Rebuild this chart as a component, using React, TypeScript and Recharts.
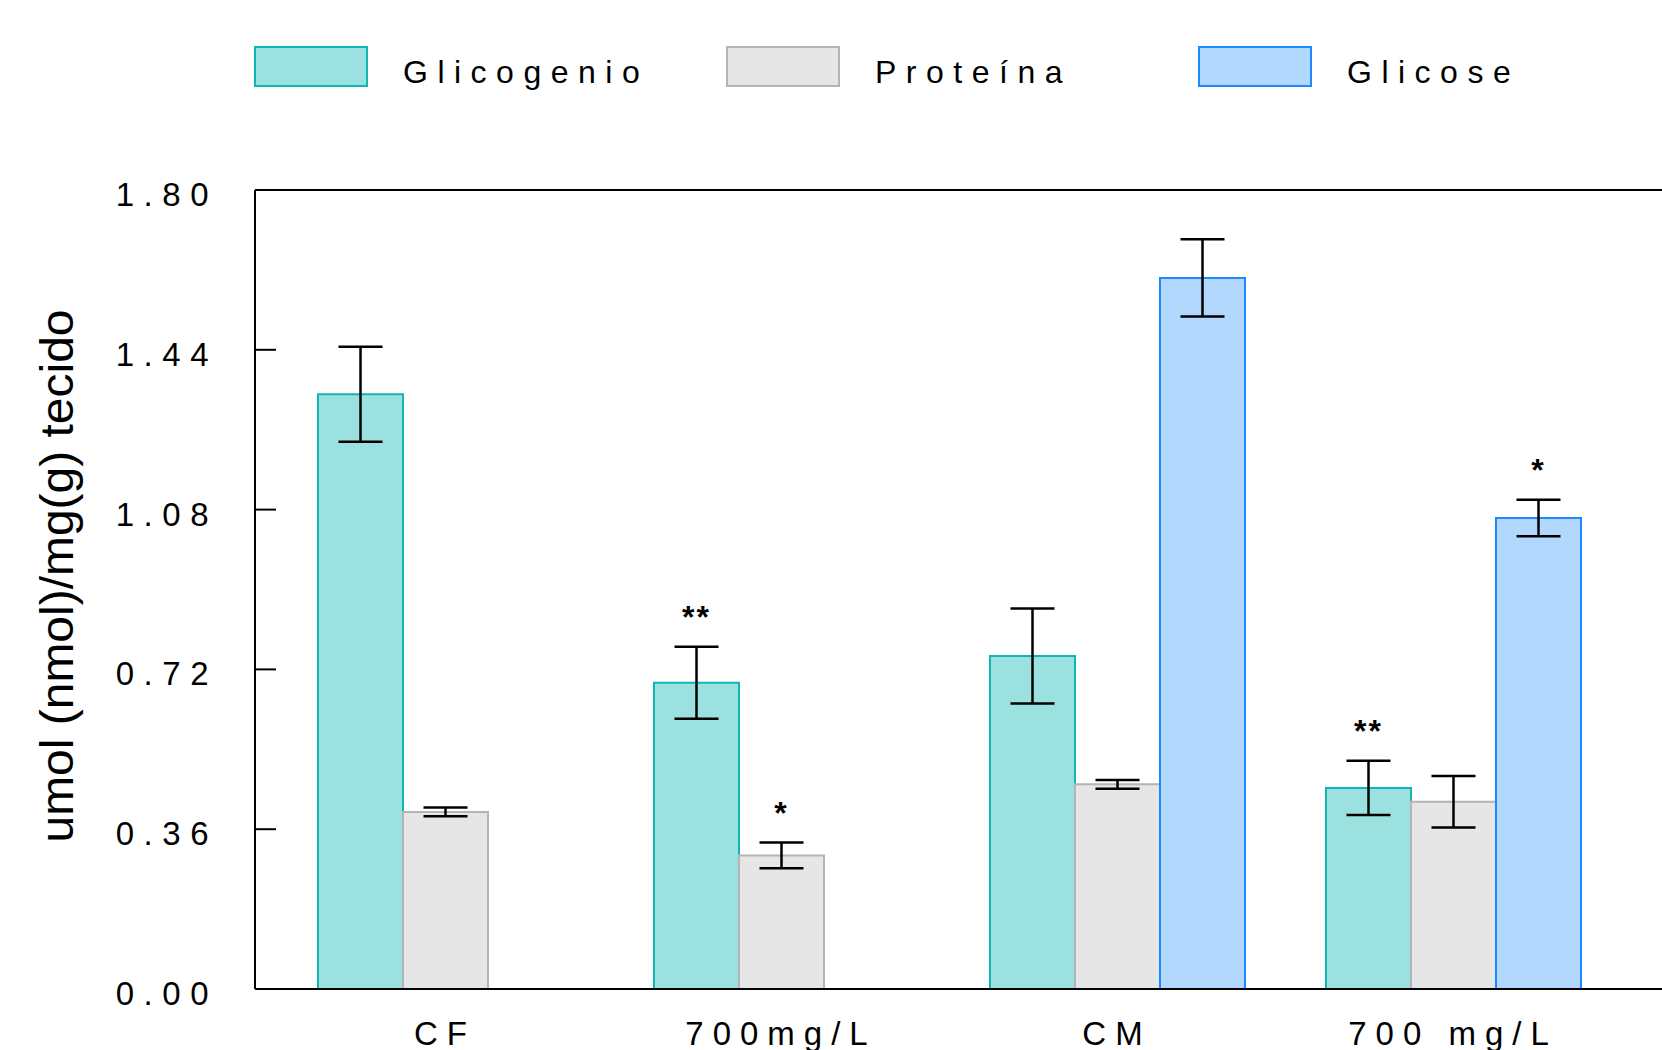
import React from "react"
import { BarChart, Bar, XAxis, YAxis, ErrorBar, LabelList, ReferenceLine, Label } from "recharts"

const categories = ["CF", "700mg/L", "CM", "700 mg/L"]
const seriesNames = ["Glicogenio", "Proteína", "Glicose"]
const glicogenio = [1.34, 0.69, 0.75, 0.453]
const glicogenioErr = [0.107, 0.081, 0.107, 0.061]
const proteina = [0.399, 0.301, 0.461, 0.422]
const proteinaErr = [0.01, 0.029, 0.01, 0.058]
const glicose = [null, null, 1.602, 1.061]
const glicoseErr = [null, null, 0.087, 0.041]
const glicogenioMarks = ["", "**", "", "**"]
const proteinaMarks = ["", "*", "", ""]
const glicoseMarks = ["", "", "", "*"]
const yTicks = [0, 0.36, 0.72, 1.08, 1.44, 1.8]

const fills = ["#9be1df", "#e6e6e6", "#b3d8fd"]
const strokes = ["#12b5b5", "#b4b4b4", "#1e88ff"]
const FONT = '"Liberation Sans", Arial, sans-serif'

const data = categories.map((name, i) => ({
  name,
  glicogenio: glicogenio[i],
  glicogenioErr: glicogenioErr[i],
  proteina: proteina[i],
  proteinaErr: proteinaErr[i],
  glicose: glicose[i],
  glicoseErr: glicoseErr[i],
}))

const YTick = (props: any) => {
  const { x, y, payload } = props
  return (
    <text x={x} y={y + 16} textAnchor="end" fontSize={33} fontFamily={FONT} letterSpacing={9.5} fill="#000">
      {Number(payload.value).toFixed(2)}
    </text>
  )
}

const XTick = (props: any) => {
  const { x, y, payload } = props
  return (
    <text x={x} y={y + 56} textAnchor="middle" fontSize={33} fontFamily={FONT} letterSpacing={9} fill="#000">
      {payload.value}
    </text>
  )
}

// significance stars sit a bit above the top of the error bar
const markRenderer = (marks: string[], values: (number | null)[], errs: (number | null)[]) => (props: any) => {
  const vb = props.viewBox || {}
  const x = props.x ?? vb.x
  const y = props.y ?? vb.y
  const width = props.width ?? vb.width
  const height = props.height ?? vb.height
  let i = categories.indexOf(props.value)
  if (i < 0 && props.payload) i = categories.indexOf(props.payload.name)
  if (i < 0) i = props.index
  const v = values[i]
  if (!marks[i] || !v) return null
  const pxPerUnit = height / v
  const top = y - (errs[i] || 0) * pxPerUnit
  return (
    <text
      key={`mark-${i}`}
      x={x + width / 2}
      y={top - 19}
      textAnchor="middle"
      fontSize={32}
      fontWeight="bold"
      fontFamily={FONT}
      letterSpacing={2}
      fill="#000"
    >
      {marks[i]}
    </text>
  )
}

const YLabel = () => (
  <text
    x={73}
    y={576}
    transform="rotate(-90, 73, 576)"
    textAnchor="middle"
    fontSize={47}
    fontFamily={FONT}
    textLength={533}
    lengthAdjust="spacingAndGlyphs"
    fill="#000"
  >
    umol (nmol)/mg(g) tecido
  </text>
)

export default function App() {
  return (
    <div style={{ position: "absolute", left: 0, top: 0, width: 1662, height: 1050, overflow: "hidden", background: "#fff" }}>
      <BarChart
        width={1662}
        height={1050}
        data={data}
        margin={{ top: 190, right: 0, left: 0, bottom: 0 }}
        barSize={85}
        barGap={0}
      >
        <XAxis
          dataKey="name"
          height={61}
          padding={{ left: 22, right: 41 }}
          axisLine={{ stroke: "#000", strokeWidth: 2 }}
          tickLine={false}
          tickSize={0}
          tickMargin={0}
          interval={0}
          tick={<XTick />}
        />
        <YAxis
          domain={[0, 1.8]}
          ticks={yTicks}
          interval={0}
          width={255}
          axisLine={{ stroke: "#000", strokeWidth: 2 }}
          tickLine={{ stroke: "#000", strokeWidth: 2 }}
          tickSize={-21}
          tickMargin={58}
          tick={<YTick />}
        >
          <Label content={<YLabel />} />
        </YAxis>
        <ReferenceLine y={1.8} stroke="#000" strokeWidth={2} />
        <Bar dataKey="glicogenio" name={seriesNames[0]} fill={fills[0]} stroke={strokes[0]} strokeWidth={2} isAnimationActive={false}>
          <ErrorBar dataKey="glicogenioErr" width={22} stroke="#000" strokeWidth={2.5} direction="y" isAnimationActive={false} />
          <LabelList dataKey="name" content={markRenderer(glicogenioMarks, glicogenio, glicogenioErr)} />
        </Bar>
        <Bar dataKey="proteina" name={seriesNames[1]} fill={fills[1]} stroke={strokes[1]} strokeWidth={2} isAnimationActive={false}>
          <ErrorBar dataKey="proteinaErr" width={22} stroke="#000" strokeWidth={2.5} direction="y" isAnimationActive={false} />
          <LabelList dataKey="name" content={markRenderer(proteinaMarks, proteina, proteinaErr)} />
        </Bar>
        <Bar dataKey="glicose" name={seriesNames[2]} fill={fills[2]} stroke={strokes[2]} strokeWidth={2} isAnimationActive={false}>
          <ErrorBar dataKey="glicoseErr" width={22} stroke="#000" strokeWidth={2.5} direction="y" isAnimationActive={false} />
          <LabelList dataKey="name" content={markRenderer(glicoseMarks, glicose, glicoseErr)} />
        </Bar>
      </BarChart>
      <svg width={1662} height={120} style={{ position: "absolute", left: 0, top: 0, pointerEvents: "none" }}>
        {seriesNames.map((name, i) => (
          <g key={name}>
            <rect x={255 + i * 472} y={47} width={112} height={39} fill={fills[i]} stroke={strokes[i]} strokeWidth={2} />
            <text x={403 + i * 472} y={83} fontSize={32} fontFamily={FONT} letterSpacing={9.5} fill="#000">
              {name}
            </text>
          </g>
        ))}
      </svg>
    </div>
  )
}
